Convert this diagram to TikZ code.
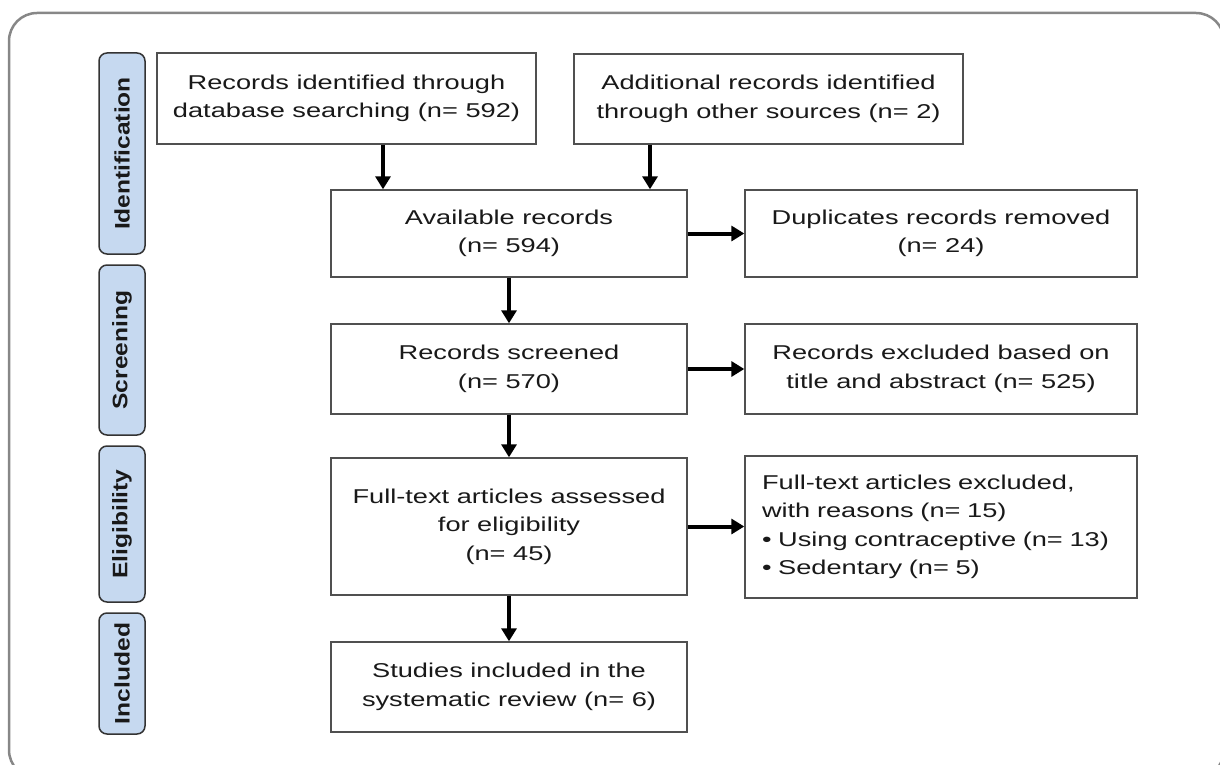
\documentclass[tikz,border=0pt]{standalone}
\usepackage{fontspec}
\setmainfont{Liberation Sans}[FakeStretch=1.36]
\newfontfamily\sidefont{Liberation Sans}[FakeStretch=1.17]
\usetikzlibrary{arrows.meta}
\definecolor{sidefill}{RGB}{198,217,240}
\definecolor{boxline}{RGB}{80,80,80}
\definecolor{outer}{RGB}{135,135,135}
\definecolor{txt}{RGB}{25,25,25}
\tikzset{
  flowbox/.style={draw=boxline, line width=1.4pt, fill=white, rectangle, inner sep=0pt,
    align=center, text=txt, font=\fontsize{20}{28.5}\selectfont},
  sidebox/.style={draw=black!80, line width=1.5pt, fill=sidefill, rounded corners=8pt,
    inner sep=0pt, minimum width=46pt, text=txt, font=\sidefont\bfseries\fontsize{21}{24}\selectfont},
  arr/.style={line width=4pt, -{Triangle[width=15pt,length=13pt]}, black}
}
\begin{document}
\begin{tikzpicture}[x=1pt,y=-1pt]
\useasboundingbox (0,0) rectangle (1220,765);
\draw[outer, line width=2.5pt, rounded corners=28pt] (9,13) rectangle (1224,778);

% side labels
\node[sidebox, minimum height=201pt] (s1) at (122,153.5) {\rotatebox{90}{Identification}};
\node[sidebox, minimum height=170pt] (s2) at (122,350) {\rotatebox{90}{Screening}};
\node[sidebox, minimum height=156pt] (s3) at (122,524) {\rotatebox{90}{Eligibility}};
\node[sidebox, minimum height=121pt] (s4) at (122,673.5) {\rotatebox{90}{Included}};

% boxes
\node[flowbox, minimum width=379pt, minimum height=91pt] (b1) at (346.5,98.5)
  {Records identified through\\database searching (n= 592)};
\node[flowbox, minimum width=389pt, minimum height=90pt] (b2) at (768.5,99)
  {Additional records identified\\through other sources (n= 2)};
\node[flowbox, minimum width=356pt, minimum height=87pt] (b3) at (509,233.5)
  {Available records\\(n= 594)};
\node[flowbox, minimum width=392pt, minimum height=87pt] (b4) at (941,233.5)
  {Duplicates records removed\\(n= 24)};
\node[flowbox, minimum width=356pt, minimum height=90pt] (b5) at (509,369)
  {Records screened\\(n= 570)};
\node[flowbox, minimum width=392pt, minimum height=90pt] (b6) at (941,369)
  {Records excluded based on\\title and abstract (n= 525)};
\node[flowbox, minimum width=356pt, minimum height=137pt] (b7) at (509,526.5)
  {Full-text articles assessed\\for eligibility\\(n= 45)};
\node[flowbox, minimum width=392pt, minimum height=142pt, text width=358pt, align=left] (b8) at (941,527)
  {Full-text articles excluded,\\with reasons (n= 15)\\• Using contraceptive (n= 13)\\• Sedentary (n= 5)};
\node[flowbox, minimum width=356pt, minimum height=90pt] (b9) at (509,687)
  {Studies included in the\\systematic review (n= 6)};

% arrows
\coordinate (c1) at (383,0);
\coordinate (c2) at (650,0);
\draw[arr] (b1.south -| c1) -- (b3.north -| c1);
\draw[arr] (b2.south -| c2) -- (b3.north -| c2);
\draw[arr] (b3.east) -- (b4.west);
\draw[arr] (b3.south) -- (b5.north);
\draw[arr] (b5.east) -- (b6.west);
\draw[arr] (b5.south) -- (b7.north);
\draw[arr] (b7.east) -- (b7.east -| b8.west);
\draw[arr] (b7.south) -- (b9.north);
\end{tikzpicture}
\end{document}
